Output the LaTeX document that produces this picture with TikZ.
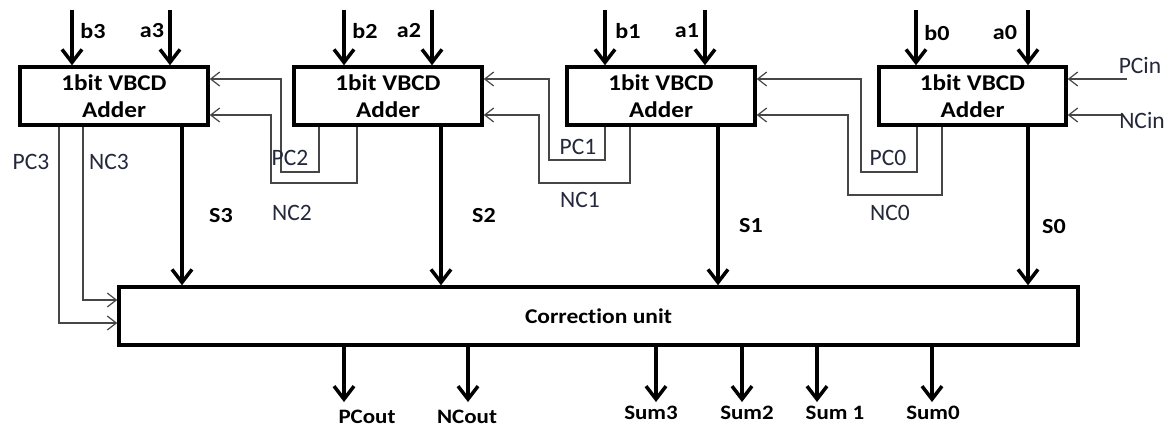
\documentclass[tikz,border=0pt]{standalone}
\usepackage{fontspec}
\setmainfont{Carlito}[Ligatures={NoCommon}]
\newfontfamily\wideb{Carlito}[FakeStretch=1.12,Ligatures={NoCommon}]
\usetikzlibrary{arrows.meta}
\definecolor{lblc}{RGB}{35,40,58}
\definecolor{thinc}{RGB}{70,70,70}
\tikzset{
  adder/.style={draw, line width=3.5pt, minimum width=188pt, minimum height=58pt, inner sep=0pt,
    align=center, font=\wideb\bfseries\fontsize{22.5}{27}\selectfont},
  corrbox/.style={draw, line width=3.5pt, minimum width=959pt, minimum height=58pt, inner sep=0pt,
    font=\wideb\bfseries\fontsize{21}{24}\selectfont},
  bigarrow/.style={line width=3.5pt, -{Straight Barb[length=13pt,width=20pt]}},
  thinarrow/.style={draw=thinc, line width=1.2pt, -{Straight Barb[length=9pt,width=14pt]}},
  thinline/.style={draw=thinc, line width=1.2pt},
  blbl/.style={font=\wideb\bfseries\fontsize{21.5}{24}\selectfont, inner sep=0pt},
  olbl/.style={font=\wideb\bfseries\fontsize{20.5}{23}\selectfont, inner sep=0pt},
  tlbl/.style={font=\fontsize{23.5}{26}\selectfont, text=lblc, inner sep=0pt},
}
\begin{document}
\begin{tikzpicture}[x=1pt,y=-1pt]
\useasboundingbox[fill=white] (0,0) rectangle (1174,432);
% adders
\node[adder] (B3) at (114,96) {1bit VBCD\\Adder};
\node[adder] (B2) at (388,96) {1bit VBCD\\Adder};
\node[adder] (B1) at (661,96) {1bit VBCD\\Adder};
\node[adder, minimum width=187pt] (B0) at (972.5,96) {1bit VBCD\\Adder};
\node[corrbox] (C) at (598.5,316) {Correction unit};
% inputs
\foreach \n/\x in {b3/72,a3/170,b2/344,a2/432,b1/605,a1/705,b0/916,a0/1028}{
  \coordinate (in\n) at (\x,10);
}
\draw[bigarrow] (inb3) -- (inb3 |- B3.north);
\draw[bigarrow] (ina3) -- (ina3 |- B3.north);
\draw[bigarrow] (inb2) -- (inb2 |- B2.north);
\draw[bigarrow] (ina2) -- (ina2 |- B2.north);
\draw[bigarrow] (inb1) -- (inb1 |- B1.north);
\draw[bigarrow] (ina1) -- (ina1 |- B1.north);
\draw[bigarrow] (inb0) -- (inb0 |- B0.north);
\draw[bigarrow] (ina0) -- (ina0 |- B0.north);
\node[blbl] (lb3) at (93,31) {b3};
\node[blbl] (la3) at (152,31) {a3};
\node[blbl] (lb2) at (365,31) {b2};
\node[blbl] (la2) at (409,31) {a2};
\node[blbl] (lb1) at (628,31) {b1};
\node[blbl] (la1) at (687,31) {a1};
\node[blbl] (lb0) at (937,33) {b0};
\node[blbl] (la0) at (1005,33) {a0};
% sum outputs of adders
\coordinate (s3) at (182,0);
\coordinate (s2) at (441,0);
\coordinate (s1) at (718,0);
\coordinate (s0) at (1028,0);
\draw[bigarrow] (s3 |- B3.south) -- (s3 |- C.north);
\draw[bigarrow] (s2 |- B2.south) -- (s2 |- C.north);
\draw[bigarrow] (s1 |- B1.south) -- (s1 |- C.north);
\draw[bigarrow] (s0 |- B0.south) -- (s0 |- C.north);
\node[blbl] (ls3) at (221,216) {S3};
\node[blbl] (ls2) at (484,216) {S2};
\node[blbl] (ls1) at (751,226) {S1};
\node[blbl] (ls0) at (1054,227) {S0};
% carries from B3 to correction unit
\coordinate (pc3) at (59,323);
\coordinate (nc3) at (83,300);
\draw[thinarrow] (pc3 |- B3.south) -- (pc3) -- (pc3 -| C.west);
\draw[thinarrow] (nc3 |- B3.south) -- (nc3) -- (nc3 -| C.west);
\node[tlbl] (lpc3) at (31,162) {PC3};
\node[tlbl] (lnc3) at (109,162) {NC3};
% carries B2 -> B3
\coordinate (pc2a) at (319,172); \coordinate (pc2b) at (281,79);
\coordinate (nc2a) at (357,183); \coordinate (nc2b) at (271,115);
\draw[thinarrow] (pc2a |- B2.south) -- (pc2a) -| (pc2b) -- (pc2b -| B3.east);
\draw[thinarrow] (nc2a |- B2.south) -- (nc2a) -| (nc2b) -- (nc2b -| B3.east);
\node[tlbl] (lpc2) at (290,158) {PC2};
\node[tlbl] (lnc2) at (292,213) {NC2};
% carries B1 -> B2
\coordinate (pc1a) at (605,160); \coordinate (pc1b) at (549,79);
\coordinate (nc1a) at (630,183); \coordinate (nc1b) at (539,115);
\draw[thinarrow] (pc1a |- B1.south) -- (pc1a) -| (pc1b) -- (pc1b -| B2.east);
\draw[thinarrow] (nc1a |- B1.south) -- (nc1a) -| (nc1b) -- (nc1b -| B2.east);
\node[tlbl] (lpc1) at (578,147) {PC1};
\node[tlbl] (lnc1) at (580,200) {NC1};
% carries B0 -> B1
\coordinate (pc0a) at (917,172); \coordinate (pc0b) at (861,79);
\coordinate (nc0a) at (942,195); \coordinate (nc0b) at (848,115);
\draw[thinarrow] (pc0a |- B0.south) -- (pc0a) -| (pc0b) -- (pc0b -| B1.east);
\draw[thinarrow] (nc0a |- B0.south) -- (nc0a) -| (nc0b) -- (nc0b -| B1.east);
\node[tlbl] (lpc0) at (888,158) {PC0};
\node[tlbl] (lnc0) at (890,213) {NC0};
% carry ins
\coordinate (pcin) at (1127,79);
\coordinate (ncin) at (1122,115);
\draw[thinarrow] (pcin) -- (pcin -| B0.east);
\draw[thinarrow] (ncin) -- (ncin -| B0.east);
\node[tlbl] (lpcin) at (1140,65) {PCin};
\node[tlbl] (lncin) at (1142,120) {NCin};
% outputs of correction unit
\foreach \n/\x in {pcout/344,ncout/468,sum3/656,sum2/742,sum1/817,sum0/932}{
  \coordinate (o\n) at (\x,402);
  \draw[bigarrow] (o\n |- C.south) -- (o\n);
}
\node[olbl] (lpcout) at (367,417) {PCout};
\node[olbl] (lncout) at (467,417) {NCout};
\node[olbl] (lsum3) at (651,413) {Sum3};
\node[olbl] (lsum2) at (747,413) {Sum2};
\node[olbl] (lsum1) at (835,413) {Sum 1};
\node[olbl] (lsum0) at (933,413) {Sum0};
\end{tikzpicture}
\end{document}
